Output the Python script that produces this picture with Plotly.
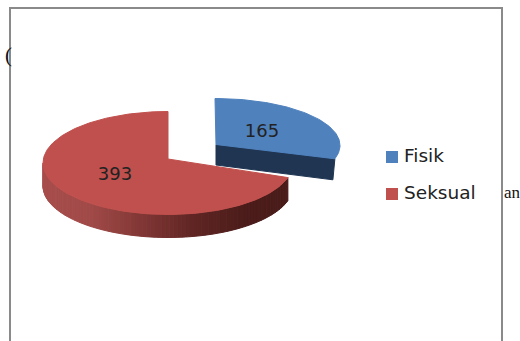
import math
import plotly.graph_objects as go

categories = ["Fisik", "Seksual"]
values = [165, 393]

BLUE, RED = "#4f81bd", "#c0504d"
BLUE_SIDE = "#1f3552"
FONT = "DejaVu Sans"
TXT = "#222222"

# Pie geometry in page pixels
RX, RY, DEPTH = 125, 51.5, 23
RED_C = (168, 163)
RED_APEX = (168, 159)
BLUE_C = (215, 145.5)
BLUE_APEX = (216, 144.5)
BLUE_RX, BLUE_RY = 125, 47


def pt(c, rx, ry, deg):
    t = math.radians(deg)
    return c[0] + rx * math.sin(t), c[1] - ry * math.cos(t)


def arc(c, rx, ry, a, b, n=80):
    return [pt(c, rx, ry, a + (b - a) * i / n) for i in range(n + 1)]


def poly(points, fill, line=None):
    xs = [p[0] for p in points] + [points[0][0]]
    ys = [p[1] for p in points] + [points[0][1]]
    return go.Scatter(x=xs, y=ys, mode="lines", fill="toself", fillcolor=fill,
                      line=dict(color=line or fill, width=1),
                      hoverinfo="skip", showlegend=False)


def mix(stops, f):
    f = max(0, min(1, f)) * (len(stops) - 1)
    i = min(int(f), len(stops) - 2)
    u = f - i
    return "rgb(%d,%d,%d)" % tuple(stops[i][k] + (stops[i + 1][k] - stops[i][k]) * u for k in range(3))


split = 360 * values[0] / sum(values)
fig = go.Figure()

# Large slice: shaded rim in narrow strips, then top
shade = [(74, 28, 26), (76, 29, 27), (96, 38, 36), (128, 55, 53), (160, 74, 72), (168, 78, 76)]
steps = 90
for i in range(steps):
    a = split + (270 - split) * i / steps
    b = split + (270 - split) * (i + 1) / steps
    top = arc(RED_C, RX, RY, a, b, 3)
    low = [(x, y + DEPTH) for x, y in reversed(top)]
    x_mid = pt(RED_C, RX, RY, (a + b) / 2)[0]
    fig.add_trace(poly(top + low, mix(shade, (RED_C[0] + RX - x_mid) / (2 * RX))))
fig.add_trace(poly([RED_APEX] + arc(RED_C, RX, RY, split, 360, 160), RED))

# Exploded slice: cut face, then top
corner = pt(BLUE_C, BLUE_RX, BLUE_RY, split)
fig.add_trace(poly([BLUE_APEX, corner, (corner[0] - 2, corner[1] + 21),
                    (BLUE_APEX[0], BLUE_APEX[1] + 20.5)], BLUE_SIDE))
fig.add_trace(poly([BLUE_APEX] + arc(BLUE_C, BLUE_RX, BLUE_RY, 0, split), BLUE))

# Value labels
fig.add_trace(go.Scatter(x=[262, 115], y=[132, 175], mode="text",
                         text=[str(v) for v in values], hoverinfo="skip", showlegend=False,
                         textfont=dict(family=FONT, size=18, color=TXT)))

# Legend keys and names
fig.add_trace(go.Scatter(x=[392, 392], y=[157, 194], mode="markers",
                         marker=dict(symbol="square", size=12, color=[BLUE, RED]),
                         hoverinfo="skip", showlegend=False))
fig.add_trace(go.Scatter(x=[404, 404], y=[157, 194], mode="text",
                         text=categories, textposition="middle right", hoverinfo="skip", showlegend=False,
                         textfont=dict(family=FONT, size=18.5, color=TXT)))

fig.update_layout(
    width=520, height=341, autosize=False,
    margin=dict(l=0, r=0, t=0, b=0),
    paper_bgcolor="white", plot_bgcolor="white",
    xaxis=dict(range=[0, 520], visible=False, fixedrange=True),
    yaxis=dict(range=[341, 0], visible=False, fixedrange=True),
    shapes=[dict(type="path", xref="x", yref="y", layer="below",
                 path="M 10 345 L 10 8 L 502 8 L 502 345",
                 line=dict(color="#8a8a8a", width=2))],
    annotations=[
        dict(x=3, y=55, xref="x", yref="y", text="(", showarrow=False, xanchor="left", yanchor="middle",
             font=dict(family="Liberation Serif", size=21, color="#111111")),
        dict(x=502, y=192, xref="x", yref="y", text="an", showarrow=False, xanchor="left", yanchor="middle",
             font=dict(family="Liberation Serif", size=17, color="#111111")),
    ],
)
fig.write_html("out.html", config=dict(displayModeBar=False),
               post_script="document.body.style.margin='0';document.documentElement.style.overflow='hidden';")
